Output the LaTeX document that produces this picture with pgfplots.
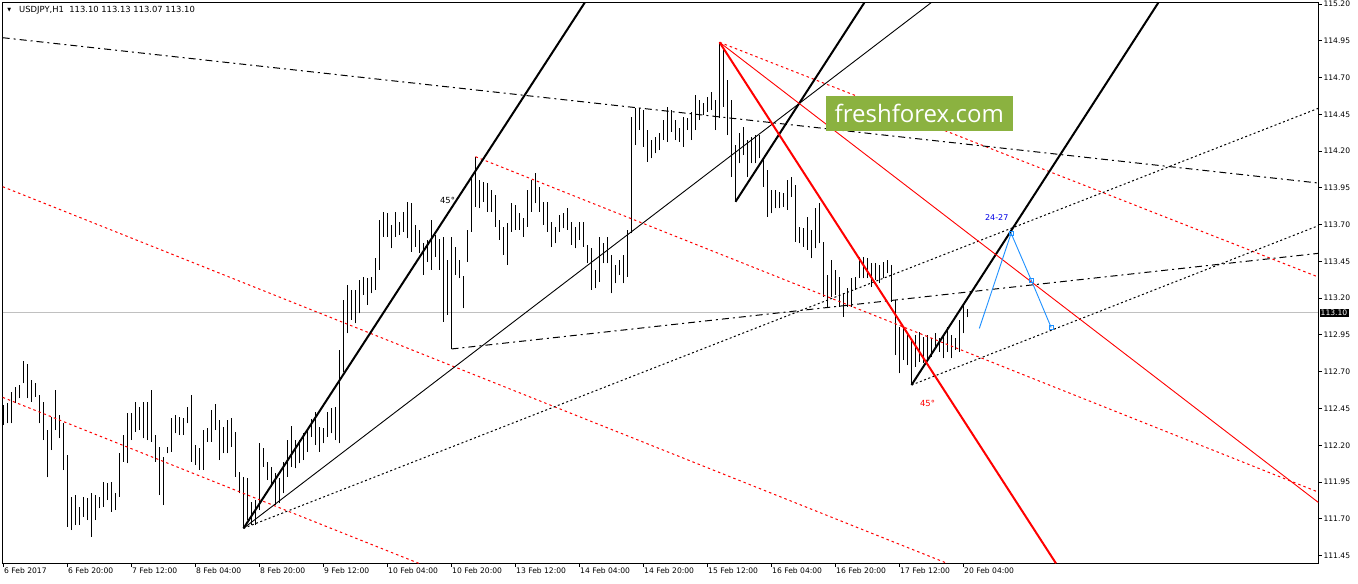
\documentclass[border=0pt]{standalone}
\usepackage{fontspec}
\setmainfont{DejaVu Sans}
\newfontfamily\wmfont{Open Sans}
\usepackage{pgfplots}
\usepackage{pgfplotstable}
\pgfplotsset{compat=1.18}

\definecolor{mtred}{RGB}{255,0,0}
\definecolor{bidgray}{RGB}{192,192,192}
\definecolor{polyblue}{RGB}{30,144,255}
\definecolor{lblblue}{RGB}{0,0,230}
\definecolor{wmgreen}{RGB}{139,178,64}

% USDJPY H1 bars: index, high, low
\pgfplotstableread{
i h l
0 112.474 112.338
1 112.485 112.349
2 112.565 112.349
3 112.599 112.485
4 112.610 112.519
5 112.773 112.621
6 112.753 112.519
7 112.644 112.497
8 112.626 112.531
9 112.542 112.349
10 112.497 112.236
11 112.304 111.982
12 112.395 112.168
13 112.576 112.304
14 112.406 112.248
15 112.349 112.032
16 112.134 111.647
17 111.851 111.624
18 111.862 111.658
19 111.783 111.658
20 111.851 111.715
21 111.840 111.692
22 111.874 111.579
23 111.862 111.692
24 111.851 111.772
25 111.953 111.783
26 111.942 111.828
27 111.953 111.749
28 111.874 111.760
29 112.146 111.851
30 112.270 112.089
31 112.417 112.078
32 112.417 112.236
33 112.497 112.293
34 112.463 112.304
35 112.497 112.248
36 112.497 112.236
37 112.576 112.225
38 112.270 112.089
39 112.191 111.862
40 112.123 111.794
41 112.191 112.146
42 112.383 112.157
43 112.406 112.281
44 112.395 112.270
45 112.383 112.270
46 112.463 112.349
47 112.542 112.089
48 112.202 112.066
49 112.180 112.032
50 112.304 112.032
51 112.315 112.225
52 112.440 112.225
53 112.481 112.304
54 112.372 112.100
55 112.327 112.146
56 112.372 112.146
57 112.383 112.191
58 112.293 111.987
59 112.021 111.874
60 111.987 111.636
61 111.975 111.692
62 111.817 111.658
63 111.828 111.658
64 112.213 111.760
65 112.179 112.055
66 112.089 111.964
67 112.055 111.919
68 112.009 111.794
69 111.975 111.805
70 112.089 111.873
71 112.236 111.987
72 112.331 112.055
73 112.236 112.043
74 112.236 112.077
75 112.281 112.100
76 112.304 112.157
77 112.377 112.259
78 112.429 112.202
79 112.327 112.157
80 112.315 112.213
81 112.429 112.259
82 112.451 112.281
83 112.463 112.236
84 112.848 112.213
85 113.188 112.701
86 113.290 112.961
87 113.256 113.052
88 113.256 113.029
89 113.324 113.097
90 113.346 113.222
91 113.335 113.154
92 113.346 113.233
93 113.471 113.256
94 113.732 113.392
95 113.788 113.618
96 113.777 113.618
97 113.698 113.539
98 113.788 113.618
99 113.720 113.630
100 113.788 113.652
101 113.856 113.607
102 113.845 113.516
103 113.698 113.550
104 113.664 113.505
105 113.573 113.358
106 113.596 113.448
107 113.732 113.392
108 113.630 113.482
109 113.600 113.392
110 113.618 113.040
111 113.460 113.086
112 113.618 112.855
113 113.550 113.358
114 113.460 113.335
115 113.351 113.131
116 113.664 113.448
117 114.015 113.652
118 114.162 113.822
119 114.003 113.811
120 113.992 113.856
121 113.981 113.788
122 113.936 113.788
123 113.902 113.686
124 113.732 113.596
125 113.686 113.494
126 113.709 113.426
127 113.845 113.652
128 113.834 113.664
129 113.777 113.664
130 113.743 113.618
131 113.936 113.686
132 114.003 113.788
133 114.049 113.845
134 113.958 113.788
135 113.856 113.698
136 113.856 113.652
137 113.720 113.550
138 113.686 113.573
139 113.766 113.652
140 113.777 113.675
141 113.811 113.664
142 113.720 113.562
143 113.686 113.539
144 113.720 113.596
145 113.720 113.550
146 113.562 113.437
147 113.539 113.256
148 113.392 113.267
149 113.618 113.312
150 113.573 113.437
151 113.618 113.437
152 113.494 113.233
153 113.426 113.301
154 113.460 113.358
155 113.494 113.301
156 113.664 113.346
157 114.434 113.641
158 114.491 114.241
159 114.491 114.343
160 114.479 114.230
161 114.343 114.128
162 114.275 114.151
163 114.298 114.185
164 114.321 114.207
165 114.411 114.275
166 114.502 114.264
167 114.479 114.332
168 114.411 114.275
169 114.355 114.264
170 114.434 114.230
171 114.423 114.343
172 114.468 114.275
173 114.581 114.343
174 114.547 114.411
175 114.525 114.445
176 114.570 114.468
177 114.604 114.479
178 114.547 114.343
179 114.940 114.423
180 114.887 114.502
181 114.683 114.309
182 114.547 114.026
183 114.241 113.856
184 114.321 114.117
185 114.366 114.173
186 114.275 114.026
187 114.298 114.117
188 114.309 114.117
189 114.309 114.151
190 114.139 113.958
191 114.071 113.754
192 113.936 113.777
193 113.936 113.811
194 113.924 113.811
195 113.913 113.822
196 114.003 113.800
197 114.026 113.890
198 113.970 113.584
199 113.686 113.573
200 113.675 113.550
201 113.754 113.528
202 113.664 113.471
203 113.811 113.539
204 113.845 113.573
205 113.584 113.211
206 113.358 113.131
207 113.460 113.211
208 113.392 113.222
209 113.346 113.142
210 113.233 113.074
211 113.267 113.142
212 113.335 113.142
213 113.346 113.256
214 113.482 113.335
215 113.482 113.335
216 113.471 113.335
217 113.437 113.278
218 113.437 113.324
219 113.426 113.301
220 113.448 113.335
221 113.460 113.369
222 113.426 113.176
223 113.188 112.814
224 113.007 112.689
225 112.995 112.780
226 112.961 112.746
227 112.916 112.610
228 112.950 112.735
229 112.973 112.769
230 112.939 112.757
231 112.950 112.780
232 112.927 112.803
233 112.961 112.859
234 112.927 112.837
235 112.939 112.791
236 113.007 112.837
237 112.950 112.791
238 112.927 112.848
239 113.052 112.837
240 113.165 112.961
241 113.130 113.070
}\bars

\begin{document}
\begin{tikzpicture}
\path[use as bounding box] (0,0) rectangle (1358bp,584bp);
\begin{axis}[
    at={(2.7bp,20.7bp)}, anchor=south west,
    width=1315.6bp, height=560.6bp, scale only axis,
    xmin=-0.2, xmax=328.7, ymin=111.398, ymax=115.209,
    clip mode=individual,
    axis line style={black, line width=1bp},
    tick style={black, line width=1bp},
    tick align=outside, major tick length=3.5bp,
    xtick pos=bottom, ytick pos=right,
    yticklabel pos=right,
    xtick={0,16,...,240},
    xticklabels={6 Feb 2017, 6 Feb 20:00, 7 Feb 12:00, 8 Feb 04:00, 8 Feb 20:00,
        9 Feb 12:00, 10 Feb 04:00, 10 Feb 20:00, 13 Feb 12:00, 14 Feb 04:00,
        14 Feb 20:00, 15 Feb 12:00, 16 Feb 04:00, 16 Feb 20:00, 17 Feb 12:00,
        20 Feb 04:00},
    ytick={111.45,111.70,111.95,112.20,112.45,112.70,112.95,113.20,113.45,
        113.70,113.95,114.20,114.45,114.70,114.95,115.20},
    yticklabels={111.45,111.70,111.95,112.20,112.45,112.70,112.95,113.20,113.45,
        113.70,113.95,114.20,114.45,114.70,114.95,115.20},
    xticklabel style={anchor=north west, inner sep=1bp, xshift=-0.5bp,
        font=\fontsize{7.6bp}{9bp}\selectfont},
    yticklabel style={anchor=west, inner sep=1.5bp,
        font=\fontsize{7.6bp}{9bp}\selectfont},
    every axis plot/.append style={line cap=butt},
]

% bid line
\addplot[bidgray, line width=1bp] coordinates {(-0.2,113.10) (328.7,113.10)};

% price bars (high-low ranges)
\addplot[draw=none, mark=none,
    error bars/.cd, y dir=plus, y explicit, error mark=none,
    error bar style={draw=black, solid, line width=1bp}]
    table[x=i, y=l, y error expr=\thisrow{h}-\thisrow{l}] {\bars};

% red dotted channel lines
\addplot[mtred, line width=1bp, dash pattern=on 2.5bp off 3bp]
    coordinates {(-0.2,113.958) (235.9,111.398)};
\addplot[mtred, line width=1bp, dash pattern=on 2.5bp off 3bp]
    coordinates {(-0.2,112.526) (103.8,111.398)};
\addplot[mtred, line width=1bp, dash pattern=on 2.5bp off 3bp]
    coordinates {(118,114.162) (328.7,111.882)};
\addplot[mtred, line width=1bp, dash pattern=on 2.5bp off 3bp]
    coordinates {(179,114.94) (328.7,113.344)};

% black dash-dot lines
\addplot[black, line width=1bp, dash pattern=on 7bp off 4bp on 2bp off 4bp]
    coordinates {(-0.2,114.971) (328.7,113.983)};
\addplot[black, line width=1bp, dash pattern=on 7bp off 4bp on 2bp off 4bp]
    coordinates {(112,112.855) (328.7,113.505)};

% black dotted lines
\addplot[black, line width=1bp, dash pattern=on 2bp off 2.5bp]
    coordinates {(60,111.636) (328.7,114.491)};
\addplot[black, line width=1bp, dash pattern=on 2bp off 2.5bp]
    coordinates {(227,112.610) (328.7,113.693)};

% thin black line from the low
\addplot[black, line width=0.9bp] coordinates {(60,111.636) (231.9,115.209)};

% thick 45 deg lines
\addplot[black, line width=2bp] coordinates {(60,111.636) (145.3,115.209)};
\addplot[black, line width=2bp] coordinates {(183,113.856) (215.2,115.209)};
\addplot[black, line width=2bp] coordinates {(227,112.610) (288.7,115.209)};

% red lines from the high
\addplot[mtred, line width=0.9bp] coordinates {(179,114.94) (328.7,111.812)};
\addplot[mtred, line width=2bp] coordinates {(179,114.94) (263.1,111.398)};

% blue projection
\addplot[polyblue, line width=0.9bp, mark=square, mark size=2bp,
    mark options={solid, line width=0.9bp, fill=white}, mark indices={2,3,4}]
    coordinates {(243.95,112.995) (251.9,113.641) (256.95,113.322) (261.9,113.002)};

% labels
\node[font=\fontsize{8.4bp}{10bp}\selectfont, inner sep=0pt] at (axis cs:111.0,113.868) {45°};
\node[font=\fontsize{8.4bp}{10bp}\selectfont, text=mtred, inner sep=0pt] at (axis cs:231.0,112.487) {45°};
\node[font=\fontsize{8bp}{10bp}\selectfont, text=lblblue, inner sep=0pt] at (axis cs:248.3,113.749) {24-27};

% watermark
\fill[wmgreen] (axis cs:205.6,114.339) rectangle (axis cs:252.3,114.575);
\node[font=\wmfont\fontsize{24bp}{26bp}\selectfont, text=white, inner sep=0pt]
    at (axis cs:228.95,114.457) {freshforex.com};

% current price label
\node[anchor=west, fill=black, text=white, inner sep=1.2bp, xshift=1bp,
    font=\fontsize{7.6bp}{9bp}\selectfont] at (axis cs:328.7,113.10) {113.10};

% header
\node[anchor=west, inner sep=0pt, font=\fontsize{5bp}{6bp}\selectfont]
    at (rel axis cs:0.0035,0.987) {▼};
\node[anchor=west, inner sep=0pt, font=\fontsize{8.4bp}{10bp}\selectfont]
    at (rel axis cs:0.0124,0.987) {USDJPY,H1\ \ 113.10 113.13 113.07 113.10};
\end{axis}
\end{tikzpicture}
\end{document}
